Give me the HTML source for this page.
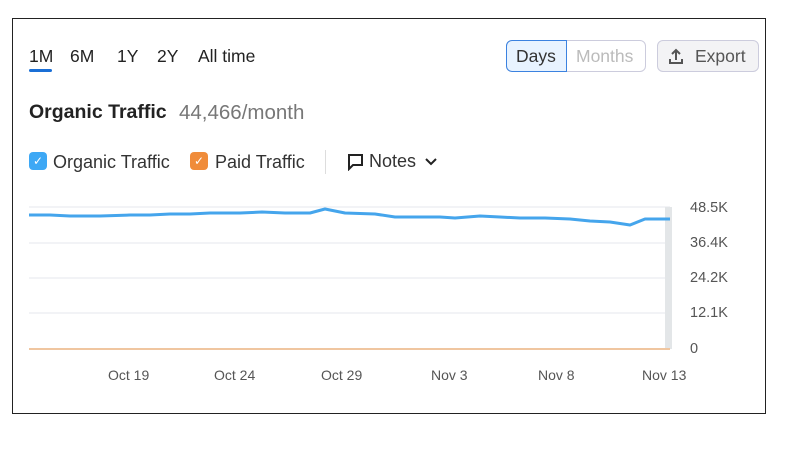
<!DOCTYPE html>
<html><head><style>
body{margin:0;width:791px;height:473px;background:#fff;font-family:"Liberation Sans",sans-serif;position:relative;overflow:hidden}
.box{position:absolute;left:12px;top:18px;width:752px;height:394px;border:1.5px solid #222}
.t{position:absolute;color:#222;white-space:nowrap}
</style></head><body>
<div class="box"></div>
<div class="t" style="left:29px;top:46px;font-size:17.5px">1M</div>
<div style="position:absolute;left:29px;top:69px;width:23px;height:3px;background:#1a6fd6;border-radius:2px"></div>
<div class="t" style="left:70px;top:46px;font-size:17.5px">6M</div>
<div class="t" style="left:117px;top:46px;font-size:17.5px">1Y</div>
<div class="t" style="left:157px;top:46px;font-size:17.5px">2Y</div>
<div class="t" style="left:198px;top:46px;font-size:17.5px">All time</div>
<div style="position:absolute;left:506px;top:40px;width:140px;height:32px;border:1px solid #ccd;border-radius:6px;box-sizing:border-box"></div>
<div style="position:absolute;left:506px;top:40px;width:61px;height:32px;border:1px solid #3b82e0;border-radius:6px 0 0 6px;background:#e8f3ff;box-sizing:border-box"></div>
<div class="t" style="left:516px;top:46px;font-size:17.5px;color:#333">Days</div>
<div class="t" style="left:576px;top:46px;font-size:17.5px;color:#bbb">Months</div>
<div style="position:absolute;left:657px;top:40px;width:102px;height:32px;border:1px solid #ccd;border-radius:6px;background:#f3f3f5;box-sizing:border-box"></div>
<svg style="position:absolute;left:667px;top:47px" width="18" height="18" viewBox="0 0 18 18"><path d="M9 13V3M5 7l4-4 4 4M3 12v4h12v-4" fill="none" stroke="#555" stroke-width="2"/></svg>
<div class="t" style="left:695px;top:46px;font-size:17.5px;color:#555">Export</div>
<div class="t" style="left:29px;top:101px;font-size:19.5px;font-weight:bold">Organic Traffic</div>
<div class="t" style="left:179px;top:101px;font-size:20.5px;color:#777">44,466/month</div>
<div style="position:absolute;left:29px;top:152px;width:18px;height:18px;background:#3da8f5;border-radius:4px;color:#fff;font-size:12px;text-align:center;line-height:18px">✓</div>
<div class="t" style="left:53px;top:152px;font-size:18px;color:#333">Organic Traffic</div>
<div style="position:absolute;left:190px;top:152px;width:18px;height:18px;background:#f08c3a;border-radius:4px;color:#fff;font-size:12px;text-align:center;line-height:18px">✓</div>
<div class="t" style="left:215px;top:152px;font-size:18px;color:#333">Paid Traffic</div>
<div style="position:absolute;left:325px;top:150px;width:1px;height:24px;background:#ddd"></div>
<svg style="position:absolute;left:346px;top:153px" width="18" height="18" viewBox="0 0 18 18"><path d="M2 2h14v10H7l-4 4V2z" fill="none" stroke="#222" stroke-width="2"/></svg>
<div class="t" style="left:369px;top:151px;font-size:18px;color:#333">Notes</div>
<svg style="position:absolute;left:425px;top:158px" width="12" height="8"><path d="M1 1l5 5 5-5" fill="none" stroke="#222" stroke-width="2"/></svg>
<svg style="position:absolute;left:0;top:0" width="791" height="473">
<g stroke="#e6e7ec" stroke-width="1"><line x1="29" y1="207" x2="670" y2="207"/><line x1="29" y1="243" x2="670" y2="243"/><line x1="29" y1="278" x2="670" y2="278"/><line x1="29" y1="313" x2="670" y2="313"/></g>
<rect x="665" y="207" width="7" height="142" fill="#e3e6e8"/>
<line x1="29" y1="349" x2="670" y2="349" stroke="#f0c6a0" stroke-width="2"/>
<polyline fill="none" stroke="#45a5ec" stroke-width="3" stroke-linejoin="round" points="29,215 50,215 70,216 100,216 130,215 150,215 170,214 190,214 210,213 240,213 262,212 285,213 310,213 325,209 345,213 375,214 395,217 420,217 440,217 455,218 480,216 500,217 520,218 545,218 570,219 590,221 610,222 630,225 645,219 670,219"/>
<g font-size="14.5" fill="#555"><text x="690" y="212">48.5K</text><text x="690" y="247">36.4K</text><text x="690" y="282">24.2K</text><text x="690" y="317">12.1K</text><text x="690" y="353">0</text></g>
<g font-size="14" fill="#555"><text x="108" y="380">Oct 19</text><text x="214" y="380">Oct 24</text><text x="321" y="380">Oct 29</text><text x="431" y="380">Nov 3</text><text x="538" y="380">Nov 8</text><text x="642" y="380">Nov 13</text></g>
</svg>
</body></html>
